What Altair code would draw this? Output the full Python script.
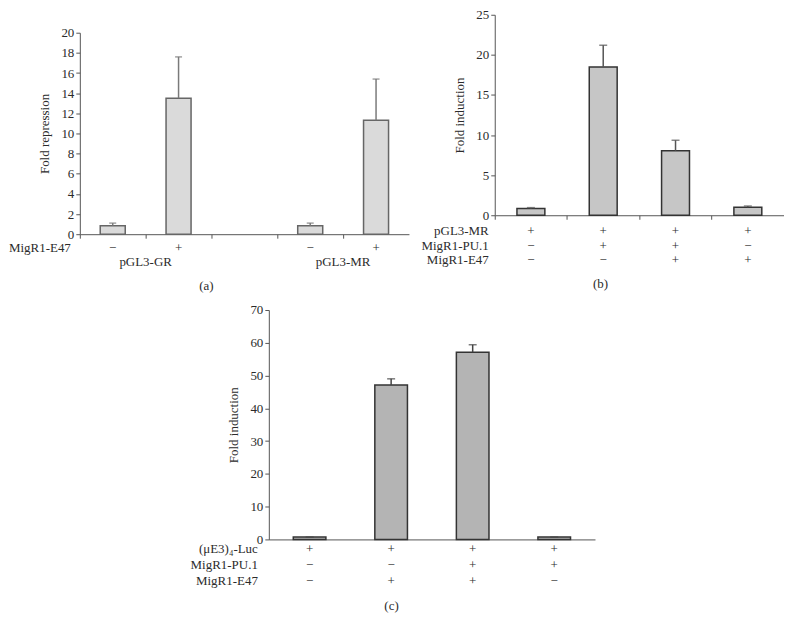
import altair as alt
import pandas as pd

FONT = "Liberation Serif"
TXT = "#2b2b2b"

# ---------- Panel (a) ----------
a_cats = ["1", "2", "3", "4", "5"]
a_vals = [0.85, 13.5, None, 0.85, 11.3]
a_errs = [1.1, 17.6, None, 1.1, 15.4]
a_e47 = ["−", "+", "", "−", "+"]
a_groups = ["pGL3-GR", "pGL3-MR"]
a_yticks = list(range(0, 21, 2))

# ---------- Panel (b) ----------
b_cats = ["1", "2", "3", "4"]
b_vals = [0.83, 18.5, 8.05, 1.0]
b_errs = [0.95, 21.2, 9.35, 1.15]
b_rows = ["pGL3-MR", "MigR1-PU.1", "MigR1-E47"]
b_signs = [["+", "+", "+", "+"], ["−", "+", "+", "−"], ["−", "−", "+", "+"]]
b_yticks = list(range(0, 26, 5))

# ---------- Panel (c) ----------
c_cats = ["1", "2", "3", "4"]
c_vals = [0.7, 47.1, 57.1, 0.7]
c_errs = [0.7, 49.0, 59.4, 0.7]
c_rows = ["(μE3)₄-Luc", "MigR1-PU.1", "MigR1-E47"]
c_signs = [["+", "+", "+", "+"], ["−", "−", "+", "+"], ["−", "+", "+", "−"]]
c_yticks = list(range(0, 71, 10))


def panel(cats, vals, errs, yticks, ymax, width, height, ytop, fill, stroke,
          errcol, bandfrac, capsize, ytitle, ticks_x, row_labels, row_signs,
          row_offs, head_x, caption, cap_x, cap_y, extra=None):
    df = pd.DataFrame({"cat": cats, "v": vals, "e": errs}).dropna()
    xs = alt.Scale(domain=cats, paddingInner=0, paddingOuter=0)
    ys = alt.Scale(domain=[0, ymax], nice=False, range=[height, ytop])
    xaxis = alt.Axis(labels=False, title=None, ticks=ticks_x, bandPosition=0,
                     tickSize=4, domainColor="#555", tickColor="#555")
    yaxis = alt.Axis(values=yticks, title=ytitle, tickSize=4, titlePadding=9,
                     labelOverlap=False, tickCount=len(yticks))
    bars = alt.Chart(df).mark_bar(
        width=alt.RelativeBandSize(bandfrac), fill=fill, stroke=stroke,
        strokeWidth=1.5).encode(
        x=alt.X("cat:N", scale=xs, axis=xaxis),
        y=alt.Y("v:Q", scale=ys, axis=yaxis))
    rule = alt.Chart(df).mark_rule(color=errcol, strokeWidth=1.5).encode(
        x=alt.X("cat:N", scale=xs, axis=xaxis),
        y=alt.Y("v:Q", scale=ys, axis=yaxis), y2="e:Q")
    cap = alt.Chart(df).mark_tick(color=errcol, thickness=1.5, size=capsize,
                                  orient="horizontal").encode(
        x=alt.X("cat:N", scale=xs, axis=xaxis),
        y=alt.Y("e:Q", scale=ys, axis=yaxis))
    layers = [bars, rule, cap]
    for i, signs in enumerate(row_signs):
        sdf = pd.DataFrame({"cat": cats, "s": signs})
        layers.append(alt.Chart(sdf).mark_text(
            font=FONT, fontSize=13, color=TXT, baseline="middle").encode(
            x=alt.X("cat:N", scale=xs, axis=xaxis),
            y=alt.value(height + row_offs[i]), text="s:N"))
    for i, lab in enumerate(row_labels):
        layers.append(alt.Chart(pd.DataFrame({"t": [lab]})).mark_text(
            font=FONT, fontSize=13, color=TXT, align="right",
            baseline="middle").encode(
            x=alt.value(head_x), y=alt.value(height + row_offs[i]), text="t:N"))
    layers.append(alt.Chart(pd.DataFrame({"t": [caption]})).mark_text(
        font=FONT, fontSize=13, color=TXT, baseline="middle").encode(
        x=alt.value(cap_x), y=alt.value(height + cap_y), text="t:N"))
    if extra:
        layers.extend(extra)
    return alt.layer(*layers).properties(width=width, height=height)


A_H = 220
a_grp = alt.Chart(pd.DataFrame({"t": a_groups, "c": ["2", "5"]})).mark_text(
    font=FONT, fontSize=13, color=TXT, baseline="middle", dx=-33).encode(
    x=alt.X("c:N", scale=alt.Scale(domain=a_cats, paddingInner=0, paddingOuter=0),
            axis=alt.Axis(labels=False, title=None, ticks=True, bandPosition=0,
                          tickSize=4, domainColor="#555", tickColor="#555")),
    y=alt.value(A_H + 28), text="t:N")

pa = panel(a_cats, a_vals, a_errs, a_yticks, 20, 330, A_H, 18, "#dadada",
           "#666666", "#7a7a7a", 0.38, 7, "Fold repression", True,
           ["MigR1-E47"], [a_e47], [14], -9, "(a)", 127, 52, extra=[a_grp])

pb = panel(b_cats, b_vals, b_errs, b_yticks, 25, 290, 201, 0, "#c6c6c6",
           "#333333", "#555555", 0.386, 8, "Fold induction", True, b_rows,
           b_signs, [16, 31, 45], -6, "(b)", 106, 69)

pc = panel(c_cats, c_vals, c_errs, c_yticks, 70, 327, 230, 0, "#b4b4b4",
           "#333333", "#444444", 0.40, 8, "Fold induction", False, c_rows,
           c_signs, [10, 26, 42], -11, "(c)", 123, 67)

top = alt.hconcat(pa, pb, spacing=12)
chart = alt.vconcat(top, pc, spacing=11, center=True).properties(
    padding={"left": 0, "top": 0, "right": 0, "bottom": 0}
).configure_view(stroke=None).configure_axis(
    grid=False, labelFont=FONT, titleFont=FONT, labelFontSize=13,
    titleFontSize=13, titleFontWeight="normal", labelColor=TXT,
    titleColor=TXT, domainColor="#555555", tickColor="#555555",
    labelPadding=2, labelOverlap=False
)

chart.save("out.html", embed_options={"renderer": "svg", "actions": False})
